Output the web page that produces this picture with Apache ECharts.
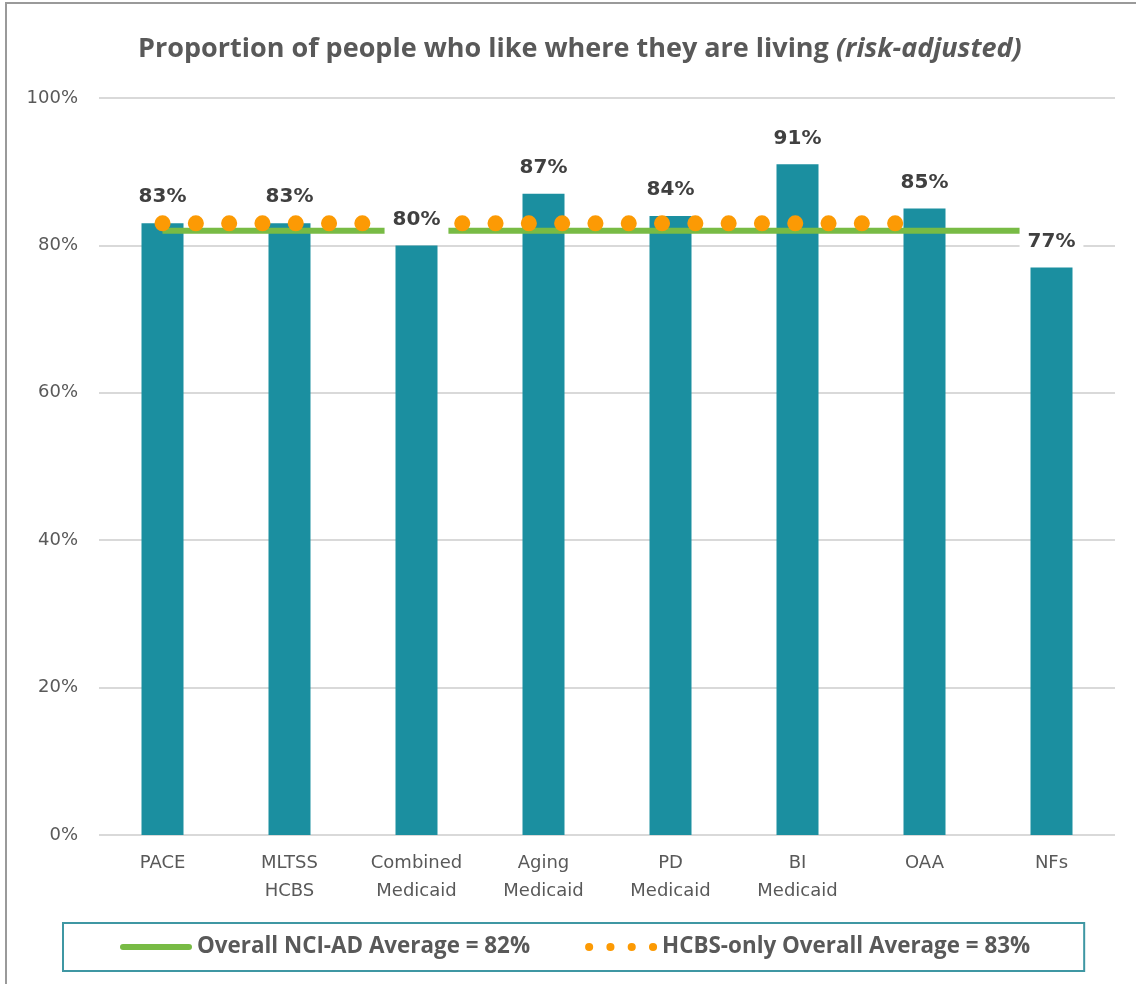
<!DOCTYPE html>
<html>
<head>
<meta charset="utf-8">
<title>Proportion of people who like where they are living</title>
<script src="https://cdn.jsdelivr.net/npm/echarts@6/dist/echarts.min.js"></script>
<style>
	html, body { margin: 0; padding: 0; background: #fff; }
	#chartmain { width: 1136px; height: 984px; }
</style>
</head>
<body>
<div id="chartmain"></div>
<script>
// categories (x axis)
var categories = ['PACE', 'MLTSS\nHCBS', 'Combined\nMedicaid', 'Aging\nMedicaid', 'PD\nMedicaid', 'BI\nMedicaid', 'OAA', 'NFs'];
// proportion per program (%)
var values = [83, 83, 80, 87, 84, 91, 85, 77];
// overall NCI-AD average, drawn across all programs
var overallLine = [82, 82, 82, 82, 82, 82, 82, 82];
// HCBS-only average, no NFs
var hcbsLine = [83, 83, 83, 83, 83, 83, 83, null];
// y axis ticks
var yTicks = { min: 0, max: 100, interval: 20 };

var overallName = 'Overall NCI-AD Average = 82%';
var hcbsName = 'HCBS-only Overall Average = 83%';

var barColor = '#1b8fa0';
var greenColor = '#78bb45';
var orangeColor = '#fc9a04';
var textGray = '#595959';

// legend icons: thick rounded line, and four dots
var lineIcon = 'path://M3,0L69,0A3,3 0 0 1 69,6L3,6A3,3 0 0 1 3,0Z';
var dotsIcon = 'path://M0,4a4,4 0 1,0 8,0a4,4 0 1,0 -8,0Z' +
	'M21,4a4,4 0 1,0 8,0a4,4 0 1,0 -8,0Z' +
	'M42,4a4,4 0 1,0 8,0a4,4 0 1,0 -8,0Z' +
	'M63,4a4,4 0 1,0 8,0a4,4 0 1,0 -8,0Z';

var myChart = echarts.init(document.getElementById('chartmain'));
myChart.setOption({
	animation: false,
	backgroundColor: '#fff',
	// outer border of the chart area
	graphic: [{
		type: 'rect',
		shape: { x: 6, y: 3, width: 1200, height: 1100 },
		style: { fill: 'none', stroke: '#9a9a9a', lineWidth: 2 },
		silent: true
	}],
	title: {
		text: '{b|Proportion of people who like where they are living }{i|(risk-adjusted)}',
		left: 133,
		top: 27,
		padding: 5,
		textStyle: {
			rich: {
				b: { fontFamily: 'Open Sans', fontSize: 27, fontWeight: 'bold', color: textGray, lineHeight: 34 },
				i: { fontFamily: 'Open Sans', fontSize: 27, fontWeight: 'bold', fontStyle: 'italic', color: textGray, lineHeight: 34 }
			}
		}
	},
	legend: {
		left: 63,
		top: 923,
		orient: 'horizontal',
		padding: [12, 54, 12, 57],
		itemGap: 55,
		itemWidth: 72,
		itemHeight: 9,
		borderColor: '#3f97a3',
		borderWidth: 2,
		selectedMode: false,
		textStyle: { fontFamily: 'Open Sans', fontSize: 22.4, fontWeight: 'bold', color: textGray, lineHeight: 24 },
		data: [
			{ name: overallName, icon: lineIcon, itemStyle: { color: greenColor } },
			{ name: hcbsName, icon: dotsIcon, itemStyle: { color: orangeColor } }
		]
	},
	grid: {
		left: 99,
		right: 21,
		top: 98,
		bottom: 149,
		containLabel: false
	},
	xAxis: {
		type: 'category',
		data: categories,
		axisLine: { show: false },
		axisTick: { show: false },
		axisLabel: {
			interval: 0,
			margin: 14,
			fontFamily: 'DejaVu Sans',
			fontSize: 18,
			lineHeight: 28,
			color: textGray
		}
	},
	yAxis: {
		type: 'value',
		min: yTicks.min,
		max: yTicks.max,
		interval: yTicks.interval,
		axisLine: { show: false },
		axisTick: { show: false },
		splitLine: { lineStyle: { color: '#d9d9d9', width: 2 } },
		axisLabel: {
			margin: 21,
			formatter: '{value}%',
			fontFamily: 'DejaVu Sans',
			fontSize: 18,
			color: textGray
		}
	},
	series: [{
		name: 'values',
		type: 'bar',
		data: values,
		barWidth: 42,
		z: 1,
		itemStyle: { color: barColor }
	}, {
		name: overallName,
		type: 'line',
		data: overallLine,
		symbol: 'none',
		z: 3,
		lineStyle: { color: greenColor, width: 6 }
	}, {
		name: hcbsName,
		type: 'line',
		data: hcbsLine,
		symbol: 'none',
		z: 4,
		lineStyle: { color: orangeColor, width: 16, cap: 'round', type: [0.1, 33.2] }
	}, {
		// transparent copy of the bars, only for the labels on top of the lines
		name: 'labels',
		type: 'bar',
		data: values,
		barWidth: 42,
		barGap: '-100%',
		z: 5,
		itemStyle: { color: 'rgba(0,0,0,0)' },
		label: {
			show: true,
			position: 'top',
			distance: 10,
			formatter: '{c}%',
			fontFamily: 'DejaVu Sans',
			fontSize: 20,
			fontWeight: 'bold',
			color: '#404040',
			lineHeight: 24,
			backgroundColor: '#fff',
			padding: [4, 8]
		}
	}]
});
</script>
</body>
</html>
